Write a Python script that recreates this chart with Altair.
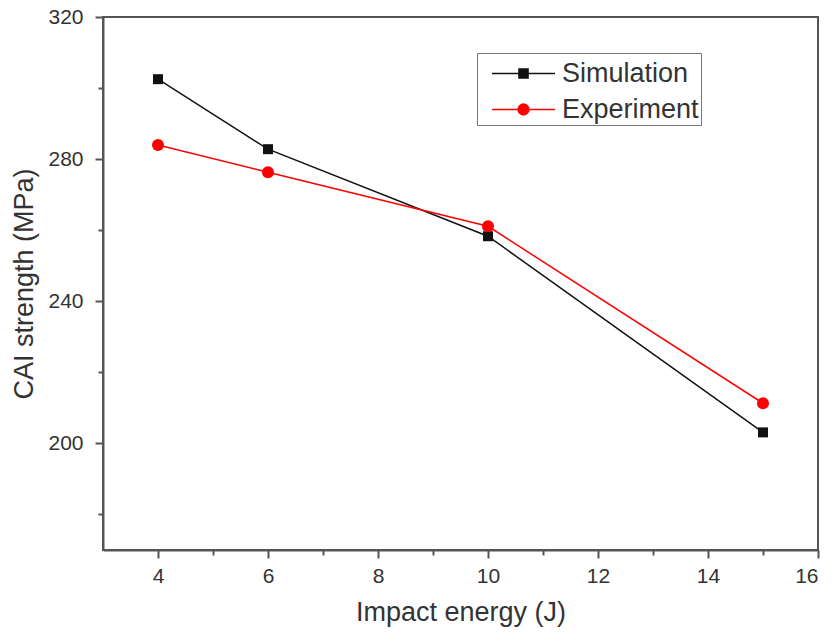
import altair as alt
import pandas as pd

# Impact energy (J) and CAI strength (MPa) for each series
energy = [4, 6, 10, 15]
simulation = [302.5, 282.8, 258.3, 203.1]
experiment = [284.0, 276.3, 261.1, 211.3]

series_names = ["Simulation", "Experiment"]
series_colors = ["#111111", "#ff0000"]
point_shapes = ["square", "circle"]
point_sizes = [100, 144]

x_major = [4, 6, 8, 10, 12, 14, 16]
x_minor = [5, 7, 9, 11, 13, 15]
y_major = [200, 240, 280, 320]
y_minor = [180, 220, 260, 300]

df = pd.DataFrame({
    "energy": energy * 2,
    "strength": simulation + experiment,
    "series": [series_names[0]] * len(energy) + [series_names[1]] * len(energy),
})

FONT = "Liberation Sans"
AXIS_GREY = "#555555"

x_scale = alt.Scale(domain=[3, 16], nice=False, zero=False)
y_scale = alt.Scale(domain=[170, 320], nice=False, zero=False)

x_axis = alt.Axis(
    values=sorted(x_major + x_minor),
    labelExpr="datum.value % 2 == 0 ? datum.label : ''",
    tickSize={"condition": {"test": "datum.value % 2 == 0", "value": 8}, "value": 5},
    labelPadding=7, titlePadding=13, grid=False,
)
y_axis = alt.Axis(
    values=sorted(y_major + y_minor),
    labelExpr="datum.value % 40 == 0 ? datum.label : ''",
    tickSize={"condition": {"test": "datum.value % 40 == 0", "value": 8}, "value": 5},
    labelPadding=12, titlePadding=9, grid=False,
)

base = alt.Chart(df).encode(
    x=alt.X("energy:Q", scale=x_scale, axis=x_axis, title="Impact energy (J)"),
    y=alt.Y("strength:Q", scale=y_scale, axis=y_axis, title="CAI strength (MPa)"),
)

# one line + marker layer per series, each in its own fixed colour
series_layers = []
for name, colour, shape, size in zip(series_names, series_colors, point_shapes, point_sizes):
    sub = base.transform_filter(alt.datum.series == name)
    series_layers.append(sub.mark_line(strokeWidth=1.5, color=colour))
    series_layers.append(sub.mark_point(shape=shape, filled=True, size=size, opacity=1, color=colour))

# legend symbols: a short line through the series marker
legend_paths = [
    "M-1.8,0H1.8M-0.26,-0.26H0.26V0.26H-0.26Z",
    "M-1.8,0H1.8M0.31,0A0.31,0.31,0,1,1,-0.31,0A0.31,0.31,0,1,1,0.31,0Z",
]
color_scale = alt.Scale(domain=series_names, range=series_colors)
legend_def = alt.Legend(
    title=None, orient="none", legendX=374, legendY=36,
    symbolSize=1225, symbolStrokeWidth=1.5, symbolOffset=26, symbolOpacity=1,
    labelOffset=20, labelFontSize=27, labelFont=FONT, labelColor="#333333",
    padding=2, rowPadding=4, strokeColor="#777777", fillColor="white",
)
# carrier layer for the legend only; its own marks have zero size
legend_layer = base.mark_point(filled=True, size=0, opacity=1).encode(
    fill=alt.Fill("series:N", scale=color_scale, legend=legend_def),
    stroke=alt.Stroke("series:N", scale=color_scale, legend=legend_def),
    shape=alt.Shape("series:N", scale=alt.Scale(domain=series_names, range=legend_paths),
                    legend=legend_def),
)

chart = (
    alt.layer(*series_layers, legend_layer)
    .properties(
        width=715, height=533,
        autosize=alt.AutoSizeParams(type="none"),
        padding={"left": 103, "top": 17, "right": 15, "bottom": 84},
        background="white",
    )
    .configure_view(stroke=AXIS_GREY, strokeWidth=2)
    .configure_axis(
        domainColor=AXIS_GREY, domainWidth=2, tickColor=AXIS_GREY, tickWidth=2,
        labelFont=FONT, labelFontSize=21, labelColor="#333333",
        titleFont=FONT, titleFontSize=27, titleColor="#333333", titleFontWeight="normal",
    )
)

chart.save("out.html", embed_options={"renderer": "svg", "actions": False})
